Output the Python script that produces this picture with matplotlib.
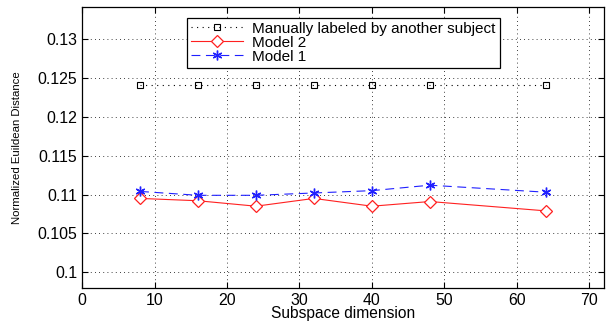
import matplotlib
matplotlib.use('Agg')
import matplotlib.pyplot as plt

plt.rcParams['font.family'] = ['Liberation Sans', 'DejaVu Sans']

# subspace dimensions
dims = [8, 16, 24, 32, 40, 48, 64]
manual = [0.1241, 0.1241, 0.1241, 0.1241, 0.1241, 0.1241, 0.1241]
model2 = [0.1095, 0.1092, 0.1085, 0.1095, 0.1085, 0.1091, 0.1079]
model1 = [0.1104, 0.1099, 0.1099, 0.1102, 0.1105, 0.1112, 0.1103]

fig = plt.figure(figsize=(6.08, 3.22), dpi=100)
ax = fig.add_axes([0.135, 0.106, 0.858, 0.872])

ax.plot(dims, manual, linestyle=(0, (1, 4)), color='k', marker='s', markersize=4.5,
        markerfacecolor='none', markeredgewidth=0.8, linewidth=0.8,
        label='Manually labeled by another subject')
ax.plot(dims, model2, linestyle='-', color='#ff2020', marker='D', markersize=6,
        markerfacecolor='white', markeredgewidth=0.9, linewidth=0.8,
        label='Model 2')
ax.plot(dims, model1, linestyle=(0, (8, 5)), color='#2020ff', marker=(6, 2, 0),
        markersize=7, markeredgewidth=1.0, linewidth=0.8, label='Model 1')

ax.set_xlim(0, 72)
ax.set_ylim(0.098, 0.1341)
ax.set_xticks(range(0, 71, 10))
ax.set_yticks([0.1, 0.105, 0.11, 0.115, 0.12, 0.125, 0.13])
ax.set_yticklabels(['0.1', '0.105', '0.11', '0.115', '0.12', '0.125', '0.13'])
ax.grid(True, linestyle=(0, (1, 4)), color='k', linewidth=0.6)
ax.tick_params(direction='in', top=True, right=True, labelsize=11.4, length=4)
for s in ax.spines.values():
    s.set_linewidth(0.9)

ax.set_xlabel('Subspace dimension', fontsize=11.2, labelpad=-1)
ax.set_ylabel('Normalized Euildean Distance', fontsize=8.2, labelpad=11)

leg = ax.legend(loc='upper center', bbox_to_anchor=(0.501, 0.99), fontsize=11,
                fancybox=False, edgecolor='k', framealpha=1, handlelength=3.4,
                borderpad=0.28, labelspacing=0.0, handletextpad=0.6)
leg.get_frame().set_linewidth(0.9)

fig.savefig('out.png', dpi=100)
